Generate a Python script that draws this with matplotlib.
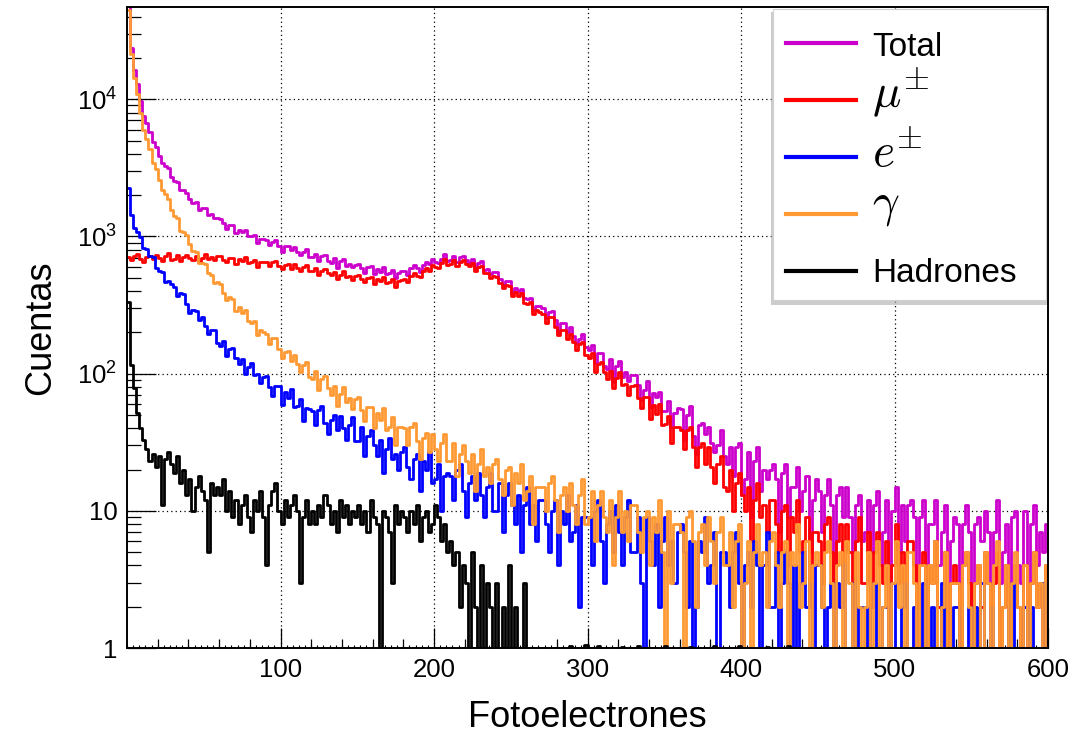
import numpy as np
import matplotlib.pyplot as plt
from matplotlib.ticker import MultipleLocator, LogLocator, NullFormatter
from matplotlib.patches import Rectangle
from matplotlib.lines import Line2D

plt.rcParams['font.family'] = ['Liberation Sans', 'DejaVu Sans']
plt.rcParams['mathtext.fontset'] = 'cm'

# histogram binning (photoelectrons), counts per bin
bin_width = 2
edges = np.arange(0, 600 + bin_width, bin_width)

gamma = [
    45000, 21300, 14300, 10970, 7900, 6000, 5130, 4310, 3430, 3110, 2585, 2190, 2035, 1880, 1555,
    1405, 1352, 1104, 1077, 1020, 883, 786, 771, 640, 643, 633, 544, 521, 461, 464,
    448, 388, 345, 360, 348, 284, 306, 278, 293, 240, 234, 242, 192, 209, 202,
    193, 163, 182, 183, 151, 130, 144, 146, 123, 137, 118, 103, 115, 122, 95,
    92, 104, 76, 91, 96, 79, 70, 81, 58, 71, 80, 62, 66, 55, 65,
    67, 54, 45, 57, 57, 40, 52, 46, 56, 39, 41, 48, 30, 41, 41,
    40, 30, 41, 44, 32, 24, 34, 37, 27, 36, 28, 23, 31, 36, 23,
    23, 31, 18, 26, 30, 23, 19, 26, 14, 22, 28, 18, 21, 16, 22,
    24, 17, 13, 20, 21, 11, 19, 16, 22, 12, 14, 18, 8, 15, 15,
    15, 10, 16, 18, 12, 7, 13, 15, 10, 16, 11, 8, 13, 17, 8,
    9, 14, 6, 11, 14, 9, 7, 12, 4, 9, 14, 7, 10, 6, 11,
    11, 7, 5, 9, 10, 4, 9, 7, 12, 5, 0, 10, 3, 8, 8,
    7, 0, 9, 10, 6, 2, 7, 8, 4, 9, 6, 3, 7, 9, 4,
    4, 7, 2, 6, 8, 0, 3, 6, 1, 5, 8, 4, 5, 2, 6,
    7, 4, 2, 5, 6, 1, 5, 4, 8, 2, 3, 6, 0, 4, 5,
    4, 2, 5, 6, 3, 0, 4, 5, 1, 6, 3, 0, 5, 2, 1,
    2, 5, 1, 3, 6, 0, 2, 4, 0, 3, 6, 2, 4, 1, 5,
    5, 3, 1, 4, 4, 0, 4, 3, 6, 1, 2, 5, 0, 3, 3,
    3, 1, 4, 5, 2, 0, 3, 4, 1, 5, 3, 0, 4, 6, 1,
    2, 4, 0, 3, 5, 2, 1, 4, 0, 3, 5, 2, 3, 1, 4,
]

electron = [
    2270, 1435, 1150, 1080, 994, 818, 809, 717, 705, 590, 556, 551, 462, 474, 452,
    428, 369, 390, 382, 320, 278, 293, 287, 245, 257, 223, 196, 207, 209, 167,
    158, 172, 135, 150, 153, 131, 118, 128, 99, 112, 120, 97, 99, 86, 95,
    96, 80, 69, 81, 81, 59, 74, 66, 77, 57, 58, 65, 45, 56, 55,
    53, 42, 54, 58, 44, 36, 46, 50, 39, 49, 40, 33, 42, 48, 32,
    32, 41, 25, 35, 39, 30, 25, 33, 19, 28, 34, 24, 26, 20, 27,
    29, 21, 17, 24, 26, 14, 23, 20, 27, 16, 17, 22, 10, 18, 19,
    18, 12, 20, 22, 14, 9, 16, 18, 12, 19, 13, 9, 15, 19, 10,
    10, 16, 7, 13, 16, 11, 8, 13, 5, 11, 15, 8, 11, 6, 12,
    12, 8, 5, 10, 12, 4, 10, 8, 13, 6, 7, 11, 2, 9, 9,
    9, 4, 10, 12, 6, 3, 8, 10, 5, 11, 7, 4, 9, 12, 5,
    5, 9, 3, 0, 9, 6, 4, 8, 2, 6, 9, 4, 6, 3, 7,
    8, 5, 2, 6, 0, 2, 6, 5, 9, 3, 4, 7, 1, 5, 5,
    4, 2, 5, 7, 3, 0, 4, 5, 2, 6, 4, 1, 4, 7, 2,
    2, 5, 0, 3, 5, 3, 1, 4, 0, 3, 5, 2, 3, 1, 4,
    4, 2, 0, 2, 3, 0, 3, 2, 4, 1, 1, 3, 0, 2, 2,
    2, 0, 2, 3, 1, 0, 2, 2, 1, 3, 1, 0, 2, 3, 0,
    1, 2, 0, 1, 3, 1, 0, 2, 0, 1, 3, 1, 1, 0, 2,
    2, 1, 0, 1, 2, 0, 2, 1, 3, 0, 1, 2, 0, 1, 1,
    1, 0, 2, 3, 1, 0, 1, 2, 0, 2, 1, 0, 1, 3, 0,
]

muon = [
    708, 677, 722, 742, 689, 655, 706, 725, 680, 734, 694, 664, 717, 753, 675,
    681, 726, 659, 709, 734, 692, 673, 717, 648, 700, 741, 684, 705, 670, 720,
    718, 677, 649, 693, 700, 633, 686, 664, 709, 639, 646, 678, 599, 650, 652,
    646, 606, 650, 663, 610, 576, 615, 627, 583, 625, 587, 557, 598, 624, 555,
    557, 590, 526, 564, 581, 540, 519, 551, 489, 527, 556, 504, 517, 483, 517,
    522, 488, 464, 499, 504, 449, 492, 474, 510, 455, 463, 491, 430, 475, 482,
    486, 468, 516, 543, 517, 504, 556, 586, 564, 621, 600, 584, 640, 680, 615,
    626, 669, 608, 654, 675, 633, 607, 637, 563, 594, 612, 545, 543, 497, 516,
    509, 457, 420, 441, 433, 368, 394, 367, 385, 327, 320, 330, 272, 292, 283,
    272, 235, 259, 260, 219, 191, 209, 209, 179, 195, 170, 149, 164, 170, 137,
    130, 142, 103, 118, 122, 102, 92, 105, 78, 93, 103, 82, 84, 70, 81,
    82, 66, 56, 67, 68, 47, 59, 51, 60, 42, 43, 49, 31, 41, 41,
    39, 28, 39, 41, 29, 21, 29, 31, 22, 29, 21, 16, 22, 25, 15,
    14, 20, 10, 16, 19, 13, 10, 15, 6, 12, 16, 9, 11, 7, 12,
    12, 8, 5, 10, 11, 4, 9, 7, 12, 5, 6, 9, 2, 7, 7,
    6, 3, 8, 9, 5, 2, 6, 8, 4, 8, 5, 2, 6, 9, 3,
    3, 7, 2, 5, 7, 4, 3, 6, 0, 4, 8, 3, 5, 2, 6,
    6, 4, 1, 4, 5, 0, 4, 3, 6, 2, 2, 5, 0, 3, 4,
    3, 1, 4, 5, 3, 0, 3, 4, 2, 5, 3, 1, 3, 5, 1,
    2, 4, 0, 3, 4, 2, 1, 4, 0, 3, 5, 2, 3, 1, 4,
]

hadron = [
    330, 115, 78, 52, 40, 33, 28, 23, 26, 21, 25, 11, 24, 27, 22,
    19, 25, 16, 20, 13, 17, 10, 15, 18, 14, 12, 5, 16, 13, 15,
    13, 17, 10, 14, 9, 12, 8, 11, 13, 9, 7, 12, 10, 14, 9,
    4, 11, 14, 16, 10, 8, 12, 9, 11, 13, 10, 3, 9, 12, 8,
    10, 8, 11, 9, 13, 11, 8, 10, 7, 12, 9, 11, 8, 10, 9,
    11, 8, 10, 7, 12, 9, 8, 0, 10, 9, 7, 3, 11, 8, 10,
    9, 7, 10, 8, 11, 6, 9, 10, 7, 8, 11, 9, 6, 8, 5,
    6, 4, 5, 2, 4, 3, 0, 5, 2, 1, 4, 0, 3, 2, 1,
    3, 0, 2, 1, 4, 0, 2, 1, 0, 3, 1, 0, 1, 0, 1,
    0, 1, 0, 0, 1, 0, 1, 0, 0, 1.04, 0, 0, 1, 0, 1.06,
    0, 1, 0, 1.03, 0, 0, 1, 0, 0, 1, 0, 1.02, 0, 0, 1,
    0, 1.04, 0, 0, 1, 0, 0, 1, 0, 0, 1.03, 0, 1, 0, 0,
    1, 0, 0, 1.02, 0, 1, 0, 0, 1, 0, 0, 1.03, 0, 0, 1,
    0, 0, 1, 0, 1.03, 0, 0, 1, 0, 0, 1, 0, 0, 1.02, 0,
    1, 0, 0, 1, 0, 1.03, 0, 0, 1, 0, 0, 1, 0, 0, 1,
    0, 0, 0, 0, 0, 0, 0, 0, 0, 0, 0, 0, 0, 0, 0,
    0, 0, 0, 0, 0, 0, 0, 0, 0, 0, 0, 0, 0, 0, 0,
    0, 0, 0, 0, 0, 0, 0, 0, 0, 0, 0, 0, 0, 0, 0,
    0, 0, 0, 0, 0, 0, 0, 0, 0, 0, 0, 0, 0, 0, 0,
    0, 0, 0, 0, 0, 0, 0, 0, 0, 0, 0, 0, 0, 0, 0,
]

total = np.array(muon) + np.array(electron) + np.array(gamma) + np.array(hadron)

labels = ['Total', r'$\mu^{\pm}$', r'$e^{\pm}$', r'$\gamma$', 'Hadrones']
colors = ['#cc00cc', '#ff0000', '#0000ff', '#ff9933', '#000000']
series = [total, muon, electron, gamma, hadron]

fig = plt.figure(figsize=(10.84, 7.34), dpi=100)
W, H = 1084.0, 734.0
ax = fig.add_axes([127 / W, 1 - 648 / H, 921 / W, 641 / H])

for vals, c in zip(series, colors):
    v = np.asarray(vals, dtype=float)
    ax.step(edges, np.append(v, v[-1]), where='post', color=c, lw=2.0)

ax.set_yscale('log')
ax.set_xlim(0, 600)
ax.set_ylim(1, 4.7e4)

# ticks, ROOT style (inside)
ax.set_xticks([100, 200, 300, 400, 500, 600])
ax.xaxis.set_minor_locator(MultipleLocator(4))
ax.tick_params(axis='x', which='major', direction='in', length=14.4, width=0.9,
               labelsize=18.5, pad=7, top=False)
ax.tick_params(axis='x', which='minor', direction='in', length=2.4, width=0.8, top=False)
sec = ax.secondary_xaxis('bottom')
sec.set_xticks([t for t in range(20, 600, 20) if t % 100])
sec.tick_params(direction='in', length=6.5, width=0.9, labelbottom=False)
sec.spines['bottom'].set_visible(False)

ax.set_yticks([1, 10, 100, 1000, 10000],
              labels=['1', '10', r'$\mathdefault{10^{2}}$', r'$\mathdefault{10^{3}}$',
                      r'$\mathdefault{10^{4}}$'])
ax.yaxis.set_minor_locator(LogLocator(base=10, subs=np.arange(2, 10)))
ax.yaxis.set_minor_formatter(NullFormatter())
ax.tick_params(axis='y', which='major', direction='in', length=21, width=0.9,
               labelsize=18.5, pad=7, right=False)
ax.tick_params(axis='y', which='minor', direction='in', length=10, width=0.9, right=False)

ax.grid(True, which='major', color='black', linestyle=(0, (1, 2.5)), lw=0.9)
ax.set_axisbelow(True)
for s in ax.spines.values():
    s.set_linewidth(1.4)

ax.set_xlabel('Fotoelectrones', fontsize=26, va='baseline')
ax.xaxis.set_label_coords(0.5, (648 - 727) / 641)
ax.set_ylabel('Cuentas', fontsize=26, va='baseline')
ax.yaxis.set_label_coords((50 - 127) / 921, 0.5)

# legend box with shadow
def fx(px):
    return px / W

def fy(py):
    return 1 - py / H

fig.add_artist(Rectangle((fx(771), fy(305)), fx(1047) - fx(771), fy(12) - fy(305),
                         transform=fig.transFigure, facecolor='#aaaaaa', alpha=0.6,
                         edgecolor='none'))
fig.add_artist(Rectangle((fx(773), fy(300)), fx(1046) - fx(773), fy(9) - fy(300),
                         transform=fig.transFigure, facecolor='white',
                         edgecolor='#d0d0d0', lw=0.8))
line_y = [43, 100, 157, 214, 271]
base_y = [56, 107, 167, 215, 282]
sizes = [24, 34, 34, 34, 24]
for lab, c, ly, by, sz in zip(labels, colors, line_y, base_y, sizes):
    fig.add_artist(Line2D([fx(786), fx(856)], [fy(ly), fy(ly)], transform=fig.transFigure,
                          color=c, lw=3))
    fig.text(fx(872), fy(by), lab, fontsize=sz, va='baseline', ha='left')

fig.savefig('out.png', dpi=100)
